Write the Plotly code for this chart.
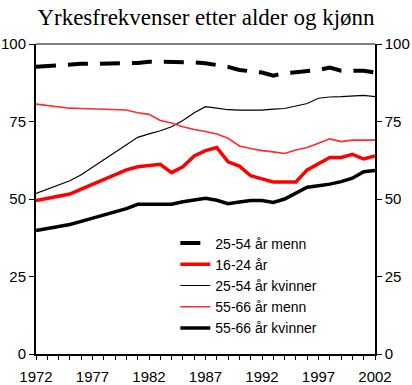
import plotly.graph_objects as go

years = [1972, 1975, 1976, 1977, 1978, 1979, 1980, 1981, 1982, 1983, 1984,
         1985, 1986, 1987, 1988, 1989, 1990, 1991, 1992, 1993, 1994, 1995,
         1996, 1997, 1998, 1999, 2000, 2001, 2002]

menn_25_54 = [92.7, 93.6, 93.6, 93.6, 93.6, 93.6, 93.6, 93.9, 94.3, 94.3, 94.2,
              94.2, 94.1, 93.8, 93.2, 92.6, 91.6, 91.2, 90.8, 89.8, 90.6, 90.9,
              91.3, 91.6, 92.4, 91.4, 91.4, 91.4, 90.8]
ung_16_24 = [49.5, 51.6, 53.2, 54.8, 56.4, 57.9, 59.4, 60.4, 60.7, 61.2, 58.5,
             60.4, 63.9, 65.6, 66.6, 62.0, 60.6, 57.5, 56.5, 55.5, 55.5, 55.5,
             59.4, 61.5, 63.4, 63.4, 64.4, 62.9, 63.9]
kvinner_25_54 = [51.8, 55.9, 57.8, 60.2, 62.6, 65.0, 67.4, 69.9, 71.0, 72.0, 73.3,
                 75.3, 77.8, 79.8, 79.3, 78.8, 78.7, 78.7, 78.7, 79.0, 79.2, 80.0,
                 80.8, 82.5, 82.9, 83.0, 83.2, 83.4, 83.0]
menn_55_66 = [80.6, 79.3, 79.2, 79.1, 79.0, 78.9, 78.7, 77.8, 77.3, 75.3, 74.5,
              73.3, 72.4, 71.8, 71.0, 69.6, 67.1, 66.3, 65.6, 65.2, 64.7, 65.8,
              66.6, 68.0, 69.4, 68.5, 69.0, 69.0, 69.0]
kvinner_55_66 = [39.8, 41.8, 42.8, 43.8, 44.8, 45.9, 46.9, 48.3, 48.3, 48.3, 48.3,
                 49.1, 49.6, 50.2, 49.6, 48.5, 49.0, 49.5, 49.5, 48.9, 50.0, 51.8,
                 53.8, 54.3, 54.8, 55.6, 56.7, 58.8, 59.2]

x_ticks = [1972, 1977, 1982, 1987, 1992, 1997, 2002]
y_ticks = [0, 25, 50, 75, 100]

series = [
    ("25-54 år menn", menn_25_54, dict(color="black", width=4, dash="20px,12px")),
    ("16-24 år", ung_16_24, dict(color="#ff0000", width=3.5)),
    ("25-54 år kvinner", kvinner_25_54, dict(color="black", width=1.2)),
    ("55-66 år menn", menn_55_66, dict(color="#ff2a2a", width=1.6)),
    ("55-66 år kvinner", kvinner_55_66, dict(color="black", width=3.5)),
]

fig = go.Figure()
for name, vals, line in series:
    fig.add_trace(go.Scatter(x=years, y=vals, name=name, mode="lines", line=line))

# invisible companion trace so the right-hand axis is drawn
fig.add_trace(go.Scatter(x=years, y=kvinner_55_66, yaxis="y2", mode="lines",
                         line=dict(width=0), opacity=0, showlegend=False,
                         hoverinfo="skip"))

sans = "Liberation Sans, Arial, sans-serif"
fig.update_layout(
    width=412, height=385,
    margin=dict(l=36, r=37, t=44, b=31, autoexpand=False),
    paper_bgcolor="white", plot_bgcolor="white",
    title=dict(text="Yrkesfrekvenser etter alder og kjønn",
               font=dict(family="Liberation Serif, Times New Roman, serif", size=23, color="black"),
               x=0.5, xanchor="center", y=0.955, yanchor="middle"),
    font=dict(family=sans, size=15, color="black"),
    showlegend=True,
    legend=dict(x=0.411, y=0.408, xanchor="left", yanchor="top",
                bgcolor="rgba(0,0,0,0)", font=dict(size=14, family=sans),
                tracegroupgap=0),
    xaxis=dict(range=[1972, 2002], tickvals=x_ticks, showgrid=False, zeroline=False,
               showline=True, linecolor="black", linewidth=2, automargin=False,
               ticks="outside", ticklen=4, tickcolor="black", tickwidth=1,
               ticklabelstandoff=4,
               minor=dict(dtick=1, ticks="outside", ticklen=4, tickcolor="black", tickwidth=1),
               tickfont=dict(size=15), fixedrange=True),
    yaxis=dict(range=[0, 100], tickvals=y_ticks, showgrid=False, zeroline=False,
               showline=True, linecolor="black", linewidth=2, automargin=False,
               ticks="outside", ticklen=5, tickcolor="black", tickwidth=1,
               tickfont=dict(size=15), fixedrange=True),
    yaxis2=dict(range=[0, 100], tickvals=y_ticks, overlaying="y", side="right",
                showgrid=False, zeroline=False, showline=True, linecolor="black",
                linewidth=1.5, automargin=False, ticks="outside", ticklen=5,
                tickcolor="black", tickwidth=1, tickfont=dict(size=15), fixedrange=True),
    shapes=[dict(type="line", xref="paper", yref="paper", x0=0, x1=1, y0=1, y1=1,
                 line=dict(color="black", width=1))],
)
fig.write_html("out.html", config={"displayModeBar": False},
               post_script="document.body.style.margin='0';document.body.style.overflow='hidden';")
